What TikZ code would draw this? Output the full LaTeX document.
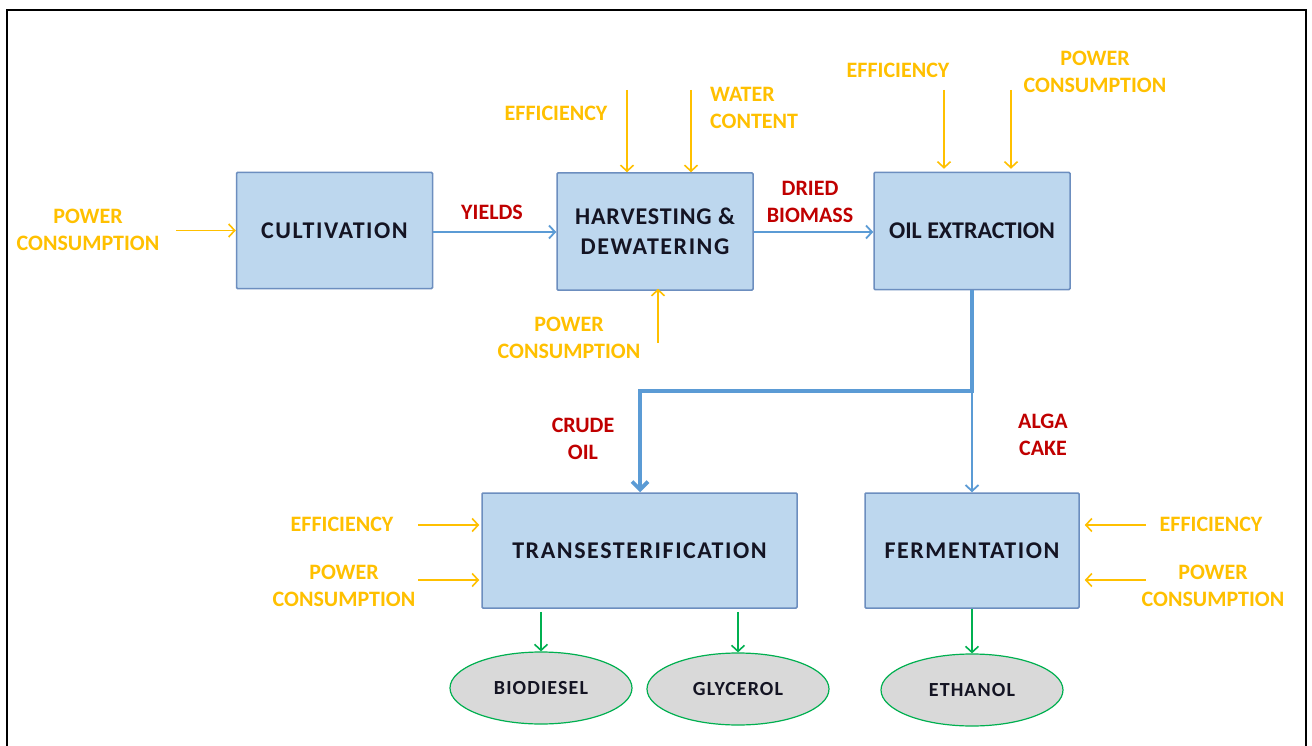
\documentclass[tikz,border=0pt]{standalone}
\usepackage{fontspec}
\setmainfont{Carlito}
\newfontfamily\spacedfont[LetterSpace=6.5]{Carlito}
\newfontfamily\midfont[LetterSpace=3.5]{Carlito}
\newfontfamily\prodfont[LetterSpace=5.5]{Carlito}
\usetikzlibrary{arrows.meta,shapes.geometric}
\definecolor{boxfill}{RGB}{189,215,238}
\definecolor{boxline}{RGB}{108,142,191}
\definecolor{orng}{RGB}{255,192,0}
\definecolor{redl}{RGB}{192,0,0}
\definecolor{bluel}{RGB}{91,155,213}
\definecolor{grn}{RGB}{0,176,80}
\definecolor{elfill}{RGB}{217,217,217}
\definecolor{txtdark}{RGB}{20,20,35}
\begin{document}
\begin{tikzpicture}[x=1pt,y=-1pt,
  proc/.style={draw=boxline, line width=1.5pt, fill=boxfill, rounded corners=1pt,
    minimum height=116pt, font=\spacedfont\fontsize{24}{30}\selectfont\bfseries, text=txtdark,
    align=center, inner sep=0pt},
  olab/.style={text=orng, font=\fontsize{22}{27}\selectfont\bfseries, align=center, inner sep=0pt},
  rlab/.style={text=redl, font=\fontsize{22}{27}\selectfont\bfseries, align=center, inner sep=0pt},
  oarr/.style={draw=orng, line width=1.6pt, -{Straight Barb[length=6pt,width=13pt]}},
  barr/.style={draw=bluel, line width=1.8pt, -{Straight Barb[length=6pt,width=13pt]}},
  bthick/.style={draw=bluel, line width=3.8pt, -{Straight Barb[length=8pt,width=16pt]}},
  garr/.style={draw=grn, line width=1.6pt, -{Straight Barb[length=6pt,width=13pt]}},
  prod/.style={ellipse, draw=grn, line width=1.2pt, fill=elfill, minimum width=182pt,
    minimum height=72pt, font=\prodfont\fontsize{20}{24}\selectfont\bfseries, text=txtdark, inner sep=0pt}
]
\useasboundingbox (0,0) rectangle (1312,746);
\fill[white] (0,0) rectangle (1312,746);
\draw[line width=2pt] (7,746) -- (7,10) -- (1306,10) -- (1306,746);

% process boxes
\node[proc, minimum width=196pt] (cult) at (334.5,230.5) {CULTIVATION};
\node[proc, minimum width=196pt, minimum height=117pt] (harv) at (655,231.5) {{\midfont HARVESTING \&}\\DEWATERING};
\node[proc, minimum width=196pt, minimum height=117pt, font=\rmfamily\fontsize{24}{30}\selectfont\bfseries] (oil) at (972,231) {OIL EXTRACTION};
\node[proc, minimum width=315pt, minimum height=115pt] (trans) at (639.5,550.5) {TRANSESTERIFICATION};
\node[proc, minimum width=214pt, minimum height=115pt] (ferm) at (972,550.5) {FERMENTATION};

% products
\node[prod] (bio) at (541,688) {BIODIESEL};
\node[prod] (gly) at (738,689) {GLYCEROL};
\node[prod] (eth) at (972,690) {ETHANOL};

% orange labels
\node[olab] (pcult) at (88,229.5) {POWER\\CONSUMPTION};
\node[olab] (effh) at (556,113) {EFFICIENCY};
\node[olab, anchor=west, align=left] (wath) at (710,107.5) {WATER\\CONTENT};
\node[olab] (pch) at (569,337.5) {POWER\\CONSUMPTION};
\node[olab] (effo) at (898,70) {EFFICIENCY};
\node[olab] (pco) at (1095,71.5) {POWER\\CONSUMPTION};
\node[olab] (efft) at (342,524) {EFFICIENCY};
\node[olab] (pct) at (344,585.5) {POWER\\CONSUMPTION};
\node[olab] (efff) at (1211,524) {EFFICIENCY};
\node[olab] (pcf) at (1213,585.5) {POWER\\CONSUMPTION};

% red labels
\node[rlab] (yld) at (492,212) {YIELDS};
\node[rlab] (dried) at (810,201.5) {DRIED\\BIOMASS};
\node[rlab] (crude) at (583,438.5) {CRUDE\\OIL};
\node[rlab] (alga) at (1043,434.5) {ALGA\\CAKE};

% orange arrows
\coordinate (a1) at (176,230.5);
\draw[oarr] (a1) -- (cult.west);
\coordinate (a2) at (627,90);
\draw[oarr] (a2) -- (a2 |- harv.north);
\coordinate (a3) at (691,90);
\draw[oarr] (a3) -- (a3 |- harv.north);
\coordinate (a4) at (658,343);
\draw[oarr] (a4) -- ([yshift=2pt]a4 |- harv.south);
\coordinate (a5) at (944,90);
\draw[oarr, shorten >=3pt] (a5) -- (a5 |- oil.north);
\coordinate (a6) at (1011,90);
\draw[oarr, shorten >=3pt] (a6) -- (a6 |- oil.north);
\coordinate (a7) at (418,525);
\draw[oarr, shorten >=2pt] (a7) -- (a7 -| trans.west);
\coordinate (a8) at (418,580);
\draw[oarr, shorten >=2pt] (a8) -- (a8 -| trans.west);
\coordinate (a9) at (1146,525);
\draw[oarr, shorten >=5pt] (a9) -- (a9 -| ferm.east);
\coordinate (a10) at (1146,580);
\draw[oarr, shorten >=5pt] (a10) -- (a10 -| ferm.east);

% blue flow
\coordinate (c1) at (cult.east |- 0,232);
\draw[barr] (c1) -- (c1 -| harv.west);
\coordinate (c2) at (harv.east |- 0,232);
\draw[barr] (c2) -- (c2 -| oil.west);
\coordinate (junc) at (972,391);
\coordinate (bend) at (640,391);
\draw[bthick] (oil.south) -- (junc) -- (bend) -- (bend |- trans.north);
\draw[barr] (junc) -- (ferm.north);

% green outputs
\draw[garr, shorten <=3pt] (bio.north |- trans.south) -- (bio.north);
\draw[garr, shorten <=3pt] (gly.north |- trans.south) -- (gly.north);
\draw[garr] (ferm.south) -- (eth.north);
\end{tikzpicture}
\end{document}
